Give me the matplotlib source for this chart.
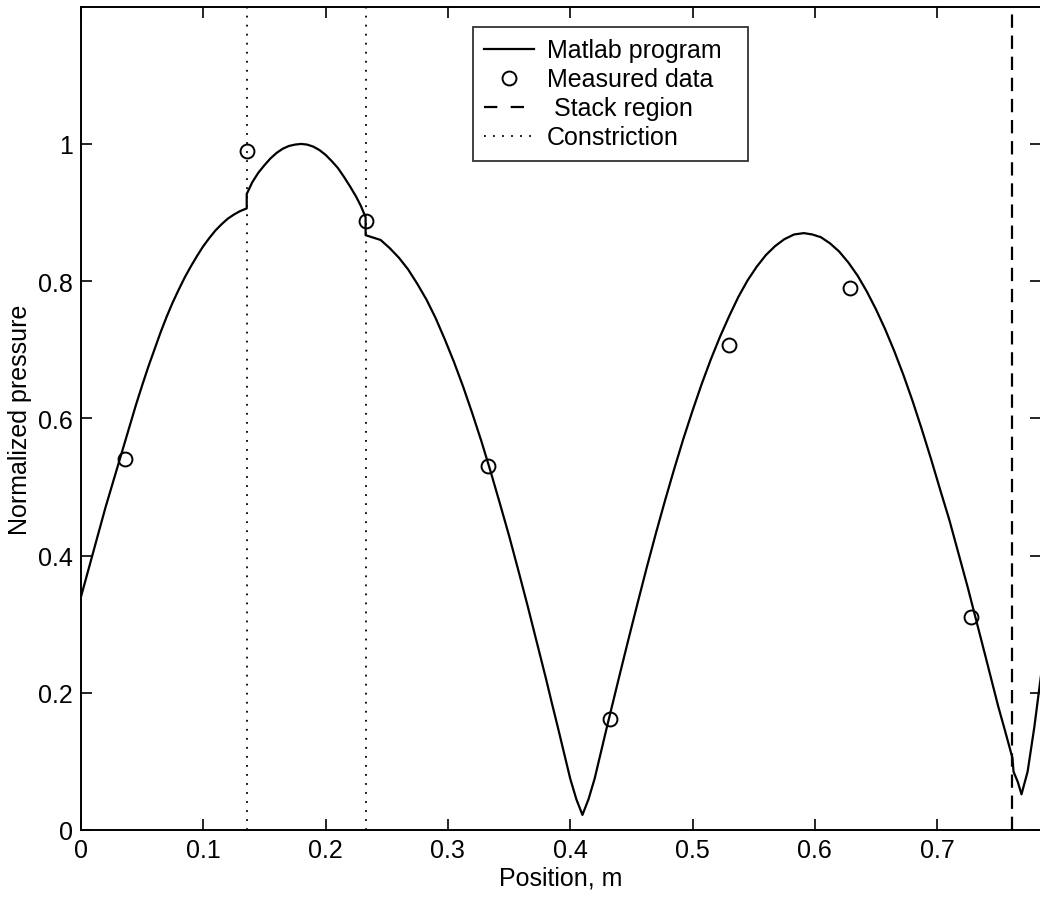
"""
Normalized pressure along the resonator: model curve vs measured data.
"""

import matplotlib.pyplot as plt
from matplotlib.lines import Line2D


# model curve (pieces split at the constriction)
model_x = [
    0.000, 0.010, 0.020, 0.030, 0.040, 0.045, 0.050, 0.055, 0.060, 0.065,
    0.070, 0.075, 0.080, 0.085, 0.090, 0.095, 0.100, 0.105, 0.110, 0.115,
    0.120, 0.125, 0.130, 0.1355,
    0.1355, 0.140, 0.145, 0.150, 0.155, 0.160, 0.165, 0.170, 0.175, 0.180,
    0.185, 0.190, 0.195, 0.200, 0.205, 0.210, 0.215, 0.220, 0.225, 0.229,
    0.2327,
    0.2327, 0.245, 0.2525, 0.260, 0.2675, 0.275, 0.2825, 0.290, 0.2975,
    0.305, 0.3125, 0.320, 0.3275, 0.335, 0.3425, 0.350, 0.3575, 0.365,
    0.3725, 0.380, 0.385, 0.390, 0.395, 0.400, 0.405, 0.410,
    0.415, 0.420, 0.430, 0.440, 0.4475, 0.455, 0.4625, 0.470, 0.4775,
    0.485, 0.4925, 0.500, 0.5075, 0.515, 0.5225, 0.530, 0.5375, 0.545,
    0.5525, 0.560, 0.5675, 0.575, 0.583, 0.591, 0.598, 0.605, 0.6125,
    0.620, 0.6275, 0.635, 0.6425, 0.650, 0.6575, 0.665, 0.6725, 0.680,
    0.6875, 0.695, 0.7025, 0.710, 0.7175, 0.725, 0.7325, 0.740, 0.745,
    0.750, 0.7555, 0.7616, 0.7625, 0.766, 0.769, 0.774, 0.7795, 0.785,
]
model_p = [
    0.340, 0.405, 0.470, 0.530, 0.590, 0.620, 0.648, 0.675, 0.700, 0.725,
    0.748, 0.769, 0.788, 0.806, 0.822, 0.837, 0.851, 0.863, 0.874, 0.883,
    0.891, 0.897, 0.902, 0.906,
    0.927, 0.944, 0.958, 0.969, 0.979, 0.987, 0.993, 0.997, 0.999, 1.000,
    0.999, 0.996, 0.991, 0.984, 0.975, 0.965, 0.952, 0.938, 0.923, 0.909,
    0.893,
    0.867, 0.860, 0.848, 0.834, 0.817, 0.796, 0.773, 0.746, 0.715,
    0.682, 0.646, 0.607, 0.566, 0.522, 0.476, 0.429, 0.379, 0.328,
    0.275, 0.222, 0.185, 0.149, 0.112, 0.075, 0.045, 0.022,
    0.045, 0.075, 0.150, 0.223, 0.277, 0.330, 0.382, 0.432, 0.480,
    0.526, 0.570, 0.611, 0.650, 0.686, 0.719, 0.749, 0.777, 0.801,
    0.821, 0.838, 0.851, 0.861, 0.868, 0.870, 0.868, 0.864, 0.855,
    0.843, 0.827, 0.808, 0.785, 0.759, 0.730, 0.698, 0.663, 0.625,
    0.584, 0.541, 0.496, 0.452, 0.403, 0.354, 0.302, 0.250, 0.215,
    0.180, 0.145, 0.105, 0.085, 0.070, 0.052, 0.085, 0.150, 0.226,
]

measured_x = [0.036, 0.1355, 0.2328, 0.333, 0.4325, 0.530, 0.629, 0.728]
measured_p = [0.541, 0.989, 0.888, 0.530, 0.162, 0.707, 0.790, 0.311]

constriction_x = [0.1355, 0.2327]
stack_x = 0.7616

OUTPUT_PATH = "out.png"


def main():
    plt.rcParams["font.family"] = ["Liberation Sans", "DejaVu Sans"]
    plt.rcParams["font.size"] = 18

    fig = plt.figure(figsize=(10.4, 9.03), dpi=100)
    ax = fig.add_axes([81 / 1040, 72 / 903, 0.785 * 1223 / 1040, 823.3 / 903])

    ax.plot(model_x, model_p, color="black", linewidth=1.6)
    ax.plot(measured_x, measured_p, linestyle="none", marker="o",
            markersize=10, markerfacecolor="none", markeredgecolor="black",
            markeredgewidth=1.4)

    for cx in constriction_x:
        ax.axvline(cx, color="black", linewidth=1.3, linestyle=(0, (1, 4)))
    ax.axvline(stack_x, color="black", linewidth=1.6, linestyle=(0, (6, 3.5)))

    ax.set_xlim(0, 0.785)
    ax.set_ylim(0, 1.2)
    ax.set_xticks([0, 0.1, 0.2, 0.3, 0.4, 0.5, 0.6, 0.7])
    ax.set_xticklabels(["0", "0.1", "0.2", "0.3", "0.4", "0.5", "0.6", "0.7"])
    ax.set_yticks([0, 0.2, 0.4, 0.6, 0.8, 1.0])
    ax.set_yticklabels(["0", "0.2", "0.4", "0.6", "0.8", "1"])
    ax.tick_params(direction="in", length=8, width=1.2, top=True, right=True,
                   pad=6)
    for spine in ax.spines.values():
        spine.set_linewidth(1.4)

    ax.set_xlabel("Position, m", labelpad=2)
    ax.set_ylabel("Normalized pressure", labelpad=4)

    handles = [
        Line2D([], [], color="black", linewidth=1.6),
        Line2D([], [], linestyle="none", marker="o", markersize=10,
               markerfacecolor="none", markeredgecolor="black",
               markeredgewidth=1.4),
        Line2D([], [], color="black", linewidth=1.6, linestyle=(0, (6, 6))),
        Line2D([], [], color="black", linewidth=1.3, linestyle=(0, (1, 4))),
    ]
    labels = ["Matlab program", "Measured data", " Stack region", "Constriction"]
    leg = fig.legend(
        handles, labels,
        loc="upper left",
        bbox_to_anchor=(473 / 1040, 1 - 165 / 903, 275 / 1040, 137 / 903),
        mode="expand",
        frameon=True,
        fancybox=False,
        borderaxespad=0,
        handlelength=2.0,
        handletextpad=0.5,
        labelspacing=0.2,
        borderpad=0.45,
    )
    leg.get_frame().set_edgecolor("black")
    leg.get_frame().set_linewidth(1.3)

    fig.savefig(OUTPUT_PATH, dpi=100)
    plt.close(fig)


if __name__ == "__main__":
    main()
